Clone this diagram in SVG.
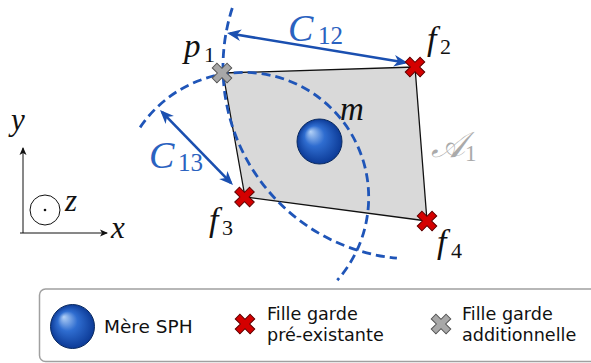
<svg xmlns="http://www.w3.org/2000/svg" xmlns:xlink="http://www.w3.org/1999/xlink" width="591" height="363" viewBox="0 0 591 363">
<style>
.math{font-family:"Liberation Serif","DejaVu Serif",serif;font-style:italic;fill:#111}
.sub{font-family:"Liberation Serif","DejaVu Serif",serif;font-style:normal;fill:#111}
.blue{fill:#2a62c0}
.leg{font-family:"DejaVu Sans","Noto Sans",sans-serif;font-size:17.6px;fill:#111}
.arc{fill:none;stroke:#1f55b8;stroke-width:2.8;stroke-dasharray:9 5}
.arrow{fill:none;stroke:#1a4fb0;stroke-width:2.6;marker-start:url(#ah);marker-end:url(#ah)}
.axis{fill:none;stroke:#111;stroke-width:1;marker-end:url(#ax)}
.red{fill:#d40000;stroke:#5e0000;stroke-width:1}
.gray{fill:#a8a8a8;stroke:#555;stroke-width:1}
.sph{fill:url(#sg);stroke:#0a2a60;stroke-width:1}
</style>
<defs>
<radialGradient id="sg" cx="0.5" cy="0.5" r="0.5" fx="0.3" fy="0.28">
<stop offset="0" stop-color="#b4d2f7"/>
<stop offset="0.45" stop-color="#2f6dd0"/>
<stop offset="1" stop-color="#0c3a96"/>
</radialGradient>
<marker id="ah" markerUnits="userSpaceOnUse" viewBox="-12 -6 16 12" refX="0" refY="0" markerWidth="16" markerHeight="12" orient="auto-start-reverse">
<path d="M3,0 L-11,-5.8 L-7,0 L-11,5.8 Z" fill="#1a4fb0"/>
</marker>
<marker id="ax" markerUnits="userSpaceOnUse" viewBox="-8 -4 9 8" refX="0" refY="0" markerWidth="9" markerHeight="8" orient="auto">
<path d="M1,0 L-7,-3.5 L-5,0 L-7,3.5 Z" fill="#111"/>
</marker>
<path id="xs" d="M-3.3,-10.5 H3.3 V-3.3 H10.5 V3.3 H3.3 V10.5 H-3.3 V3.3 H-10.5 V-3.3 H-3.3 Z" transform="rotate(45)"/>
</defs>

<rect width="591" height="363" fill="#fff"/>

<g id="region-A1">
<polygon points="223,73 415,67 427,221 245,197" fill="#d9d9d9" stroke="#111" stroke-width="1.3" stroke-linejoin="round"/>
<text class="math" x="431" y="157" font-size="36" style="fill:#aaaaaa">𝒜</text>
<text class="sub" x="465" y="161" font-size="23" style="fill:#aaaaaa">1</text>
</g>

<g id="connectors">
<path class="arc" d="M232.3,8.0 A192,192 0 0 0 396.9,258.2"/>
<path class="arc" d="M140.1,127.4 A125,125 0 1 1 337.3,280.2"/>
<line class="arrow" x1="230" y1="33.5" x2="405" y2="62.5"/>
<line class="arrow" x1="162.1" y1="112.1" x2="230.9" y2="182.9"/>
<text class="math blue" x="288" y="41" font-size="38">C</text>
<text class="sub blue" x="318" y="44" font-size="25">12</text>
<text class="math blue" x="149" y="168" font-size="38">C</text>
<text class="sub blue" x="178" y="171" font-size="25">13</text>
</g>

<g id="m">
<circle class="sph" cx="319.5" cy="141.5" r="22.5"/>
<text class="math" x="340" y="120" font-size="33">m</text>
</g>

<g id="p1">
<use xlink:href="#xs" href="#xs" x="222" y="73" class="gray"/>
<text class="math" x="184" y="57" font-size="33">p</text>
<text class="sub" x="204" y="62" font-size="22">1</text>
</g>

<g id="f2">
<use xlink:href="#xs" href="#xs" x="415" y="67" class="red"/>
<text class="math" x="427" y="50" font-size="34">f</text>
<text class="sub" x="440" y="54" font-size="22">2</text>
</g>

<g id="f3">
<use xlink:href="#xs" href="#xs" x="244.5" y="197" class="red"/>
<text class="math" x="209" y="231" font-size="34">f</text>
<text class="sub" x="222" y="235" font-size="22">3</text>
</g>

<g id="f4">
<use xlink:href="#xs" href="#xs" x="427" y="221" class="red"/>
<text class="math" x="437" y="253" font-size="34">f</text>
<text class="sub" x="451" y="258" font-size="22">4</text>
</g>

<g id="axes">
<line class="axis" x1="23" y1="233" x2="23" y2="148"/>
<line class="axis" x1="20" y1="233" x2="107" y2="233"/>
<circle cx="45" cy="210" r="15" fill="none" stroke="#111" stroke-width="1"/>
<circle cx="45" cy="210" r="1.3" fill="#111"/>
<text class="math" x="11" y="130" font-size="31">y</text>
<text class="math" x="111" y="238" font-size="31">x</text>
<text class="math" x="65" y="211" font-size="31">z</text>
</g>

<g id="legend">
<rect x="39.5" y="289" width="570" height="72.5" rx="6" fill="#fff" stroke="#a0a0a0" stroke-width="1.5"/>
<circle class="sph" cx="72.5" cy="326.5" r="22"/>
<text class="leg" x="104" y="333" font-size="18.5" style="font-size:18.5px">Mère SPH</text>
<use xlink:href="#xs" href="#xs" x="245" y="324" class="red"/>
<text class="leg" x="267" y="320">Fille garde</text>
<text class="leg" x="267" y="340.5">pré-existante</text>
<use xlink:href="#xs" href="#xs" x="441" y="324" class="gray"/>
<text class="leg" x="462" y="320">Fille garde</text>
<text class="leg" x="462" y="340.5">additionnelle</text>
</g>
</svg>
